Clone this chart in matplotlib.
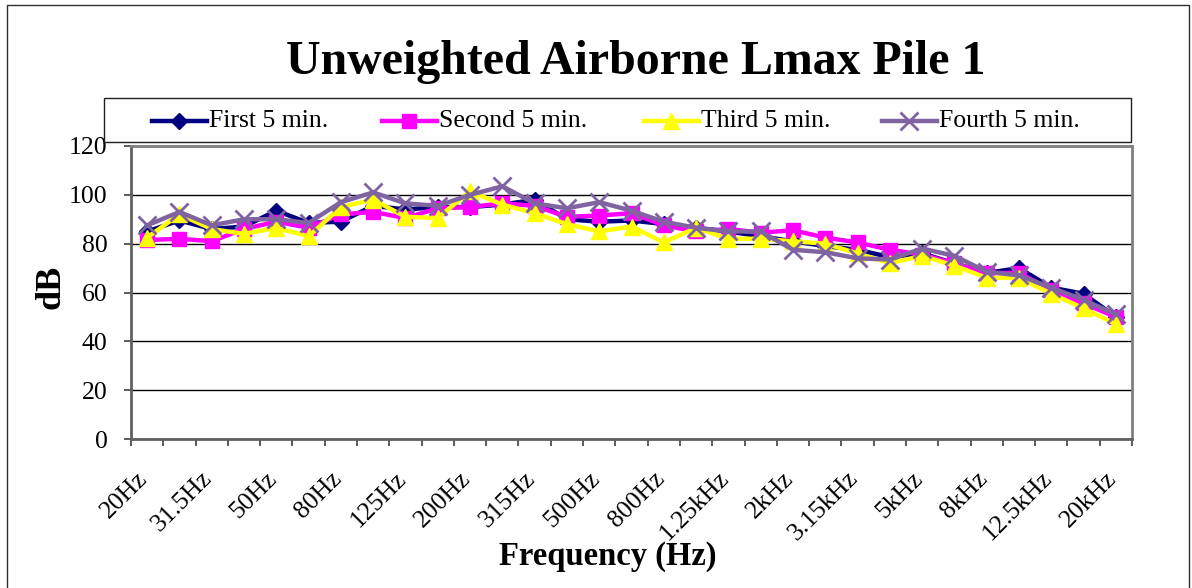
import matplotlib
matplotlib.use("Agg")
import matplotlib.pyplot as plt
from matplotlib.patches import Rectangle
from matplotlib.lines import Line2D
from matplotlib.transforms import ScaledTranslation

# 1/3-octave bands, 20 Hz .. 20 kHz
bands = ["20Hz", "25Hz", "31.5Hz", "40Hz", "50Hz", "63Hz", "80Hz", "100Hz",
         "125Hz", "160Hz", "200Hz", "250Hz", "315Hz", "400Hz", "500Hz", "630Hz",
         "800Hz", "1kHz", "1.25kHz", "1.6kHz", "2kHz", "2.5kHz", "3.15kHz", "4kHz",
         "5kHz", "6.3kHz", "8kHz", "10kHz", "12.5kHz", "16kHz", "20kHz"]

first = [85, 89.5, 86, 87, 93.5, 88.5, 89, 95.5, 94, 95, 95, 96, 98, 90, 89, 89.5,
         88, 86.5, 85, 83, 81, 79, 77.5, 74.5, 76, 72, 68, 70, 62, 59.5, 50]
second = [81.5, 82, 81, 86, 89, 86.5, 92, 93, 90.5, 94.5, 95, 96.5, 95.5, 91, 91.5, 92.5,
          87.5, 85, 86, 84.5, 85.5, 82.5, 80.5, 77.5, 75.5, 72, 68, 68, 61, 55.5, 50]
third = [82.5, 92, 86, 84, 86.5, 83, 95, 98, 91, 90.5, 101.5, 96, 92.5, 88, 85, 87,
         80.5, 86.5, 82, 82, 81, 80, 76, 72, 75, 71, 66, 66, 59.5, 53.5, 47]
fourth = [87.5, 93, 87.5, 90, 90, 88.5, 97, 101, 96.5, 95.5, 100, 103.5, 96.5, 94.5, 97, 93.5,
          89, 86.5, 85, 85, 77.5, 76.5, 74, 73.5, 78, 75, 68.5, 67, 62, 57, 51]

series_labels = ["First 5 min.", "Second 5 min.", "Third 5 min.", "Fourth 5 min."]

plt.rcParams['font.family'] = ['Liberation Serif', 'DejaVu Serif']

W, H = 1192, 588
fig = plt.figure(figsize=(W / 100, H / 100), dpi=100)

# outer chart border
fig.add_artist(Line2D([7 / W, 7 / W, 1189 / W, 1189 / W], [0, 1 - 5 / H, 1 - 5 / H, 0],
                      transform=fig.transFigure, color="#303030", lw=1))

ax = fig.add_axes([131 / W, 1 - 439 / H, (1132 - 131) / W, (439 - 146) / H])

x = list(range(len(bands)))
styles = [
    (first, "#000080", "D", 8, 1),
    (second, "#FF00FF", "s", 10, 1),
    (third, "#FFFF00", "^", 11, 1),
    (fourth, "#8064A2", "x", 13, 2),
]
for (vals, color, marker, ms, mew), label in zip(styles, series_labels):
    ax.plot(x, vals, color=color, lw=3.2, marker=marker, ms=ms,
            mew=mew, mec=color, mfc=color, label=label)

ax.set_xlim(-0.5, len(bands) - 0.5)
ax.set_ylim(0, 120)
ax.set_yticks(range(0, 121, 20))
ax.set_xticks(x[::2])
ax.set_xticklabels(bands[::2], rotation=45, ha="right", va="center",
                   rotation_mode="anchor")
ax.set_xticks([i - 0.5 for i in range(len(bands) + 1)], minor=True)
ax.tick_params(axis="x", which="major", length=0, pad=26, labelsize=18.5)
ax.tick_params(axis="x", which="minor", length=5, width=1.2, color="#404040")
ax.tick_params(axis="y", length=5, width=1.2, color="#404040", pad=12, labelsize=18.5)
shift = ScaledTranslation(-3 / 100, 0, fig.dpi_scale_trans)
for lbl in ax.get_xticklabels():
    lbl.set_transform(lbl.get_transform() + shift)
ax.yaxis.grid(True, color="black", lw=1)
ax.set_axisbelow(True)
for side, sp in ax.spines.items():
    sp.set_color("#808080" if side in ("top", "right") else "#606060")
    sp.set_linewidth(2)

# title and axis labels
fig.text(636 / W, 1 - 62 / H, "Unweighted Airborne Lmax Pile 1", ha="center",
         va="center", fontsize=34.5, fontweight="bold")
fig.text(51 / W, 1 - 287 / H, "dB", rotation=90, ha="center", va="center",
         fontsize=26, fontweight="bold")
fig.text(608 / W, 1 - 556 / H, "Frequency (Hz)", ha="center", va="center",
         fontsize=23.5, fontweight="bold")

# legend box with hand-placed entries
fig.add_artist(Rectangle((104 / W, 1 - 142 / H), (1131 - 104) / W, 44 / H,
                         transform=fig.transFigure, fill=True, fc="white",
                         ec="#202020", lw=1, zorder=3))
legend_x = [152, 382, 644, 882]
ly = 1 - 121 / H
for (vals, color, marker, ms, mew), label, x0 in zip(styles, series_labels, legend_x):
    fig.add_artist(Line2D([x0 / W, (x0 + 55) / W], [ly, ly], transform=fig.transFigure,
                          color=color, lw=3.2, zorder=4))
    fig.add_artist(Line2D([(x0 + 27) / W], [ly], transform=fig.transFigure,
                          marker=marker, ms=ms, mew=mew, mec=color, mfc=color,
                          color=color, lw=0, zorder=5))
    fig.text((x0 + 57) / W, ly, label, ha="left", va="center", fontsize=18.5, zorder=5)

fig.savefig("out.png", dpi=100)
